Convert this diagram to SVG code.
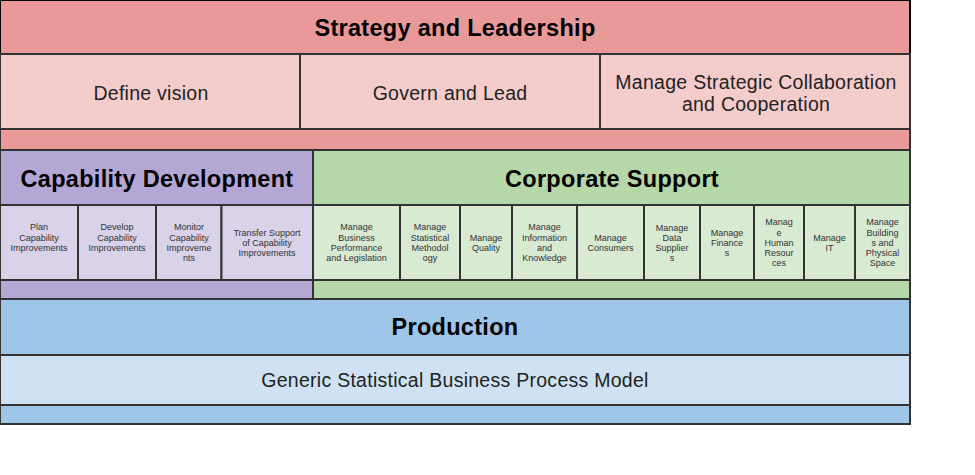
<svg xmlns="http://www.w3.org/2000/svg" width="975" height="475" viewBox="0 0 975 475">
<style>
rect{stroke:#333;stroke-width:2}
.hdr{font-family:"Liberation Sans",Arial,sans-serif;font-size:23.5px;font-weight:bold;fill:#000;text-anchor:middle;letter-spacing:0.3px}
.mid{font-family:"Liberation Sans",Arial,sans-serif;font-size:19.5px;fill:#222;text-anchor:middle;letter-spacing:0.27px}
.sm{font-family:"Liberation Sans",Arial,sans-serif;font-size:9px;fill:#333;text-anchor:middle}
.sl{fill:#EA9999}.sls{fill:#F4CCCC}
.cd{fill:#B4A7D6}.cds{fill:#D9D2E9}
.cs{fill:#B6D7A8}.css{fill:#D9EAD3}
.pr{fill:#9FC5E8}.prs{fill:#CFE2F3}
</style>
<rect x="0" y="0" width="975" height="475" style="fill:#fff;stroke:none"/>
<g id="strategy-leadership">
<rect class="sl" x="0" y="0" width="910" height="150"/>
<rect class="sl" x="0" y="0" width="910" height="54" style="stroke:#000"/>
<text class="hdr" x="455" y="36">Strategy and Leadership</text>
</g>
<g id="define-vision">
<rect class="sls" x="0" y="54" width="300" height="75"/>
<text class="mid" x="151" y="100">Define vision</text>
</g>
<g id="govern-lead">
<rect class="sls" x="300" y="54" width="300" height="75"/>
<text class="mid" x="450" y="100">Govern and Lead</text>
</g>
<g id="manage-strategic">
<rect class="sls" x="600" y="54" width="310" height="75"/>
<text class="mid" x="756" y="89">Manage Strategic Collaboration</text>
<text class="mid" x="756" y="111">and Cooperation</text>
</g>
<g id="capability-development">
<rect class="cd" x="0" y="150" width="313" height="149"/>
<rect class="cd" x="0" y="150" width="313" height="55"/>
<text class="hdr" x="157" y="187">Capability Development</text>
</g>
<g id="corporate-support">
<rect class="cs" x="313" y="150" width="597" height="149"/>
<rect class="cs" x="313" y="150" width="597" height="55"/>
<text class="hdr" x="612" y="187">Corporate Support</text>
</g>
<g id="plan-cap">
<rect class="cds" x="0" y="205" width="78" height="75"/>
<text class="sm" x="39"><tspan x="39" y="230">Plan</tspan><tspan x="39" y="241">Capability</tspan><tspan x="39" y="251">Improvements</tspan></text>
</g>
<g id="develop-cap">
<rect class="cds" x="78" y="205" width="78" height="75"/>
<text class="sm" x="117"><tspan x="117" y="230">Develop</tspan><tspan x="117" y="241">Capability</tspan><tspan x="117" y="251">Improvements</tspan></text>
</g>
<g id="monitor-cap">
<rect class="cds" x="156" y="205" width="65.5" height="75"/>
<text class="sm" x="189"><tspan x="189" y="230">Monitor</tspan><tspan x="189" y="241">Capability</tspan><tspan x="189" y="251">Improveme</tspan><tspan x="189" y="261">nts</tspan></text>
</g>
<g id="transfer-cap">
<rect class="cds" x="221.5" y="205" width="91.5" height="75"/>
<text class="sm" x="267"><tspan x="267" y="236">Transfer Support</tspan><tspan x="267" y="246">of Capability</tspan><tspan x="267" y="256">Improvements</tspan></text>
</g>
<g id="manage-business">
<rect class="css" x="313" y="205" width="87" height="75"/>
<text class="sm" x="356.5"><tspan x="356.5" y="230">Manage</tspan><tspan x="356.5" y="241">Business</tspan><tspan x="356.5" y="251">Performance</tspan><tspan x="356.5" y="261">and Legislation</tspan></text>
</g>
<g id="manage-stat-method">
<rect class="css" x="400" y="205" width="60" height="75"/>
<text class="sm" x="430"><tspan x="430" y="230">Manage</tspan><tspan x="430" y="241">Statistical</tspan><tspan x="430" y="251">Methodol</tspan><tspan x="430" y="261">ogy</tspan></text>
</g>
<g id="manage-quality">
<rect class="css" x="460" y="205" width="52" height="75"/>
<text class="sm" x="486"><tspan x="486" y="241">Manage</tspan><tspan x="486" y="251">Quality</tspan></text>
</g>
<g id="manage-info">
<rect class="css" x="512" y="205" width="65" height="75"/>
<text class="sm" x="544.5"><tspan x="544.5" y="230">Manage</tspan><tspan x="544.5" y="241">Information</tspan><tspan x="544.5" y="251">and</tspan><tspan x="544.5" y="261">Knowledge</tspan></text>
</g>
<g id="manage-consumers">
<rect class="css" x="577" y="205" width="67" height="75"/>
<text class="sm" x="610.5"><tspan x="610.5" y="241">Manage</tspan><tspan x="610.5" y="251">Consumers</tspan></text>
</g>
<g id="manage-data-suppliers">
<rect class="css" x="644" y="205" width="56" height="75"/>
<text class="sm" x="672"><tspan x="672" y="231">Manage</tspan><tspan x="672" y="241">Data</tspan><tspan x="672" y="251">Supplier</tspan><tspan x="672" y="261">s</tspan></text>
</g>
<g id="manage-finances">
<rect class="css" x="700" y="205" width="54" height="75"/>
<text class="sm" x="727"><tspan x="727" y="236">Manage</tspan><tspan x="727" y="246">Finance</tspan><tspan x="727" y="256">s</tspan></text>
</g>
<g id="manage-hr">
<rect class="css" x="754" y="205" width="50" height="75"/>
<text class="sm" x="779"><tspan x="779" y="225">Manag</tspan><tspan x="779" y="236">e</tspan><tspan x="779" y="246">Human</tspan><tspan x="779" y="256">Resour</tspan><tspan x="779" y="266">ces</tspan></text>
</g>
<g id="manage-it">
<rect class="css" x="804" y="205" width="51" height="75"/>
<text class="sm" x="829.5"><tspan x="829.5" y="241">Manage</tspan><tspan x="829.5" y="251">IT</tspan></text>
</g>
<g id="manage-buildings">
<rect class="css" x="855" y="205" width="55" height="75"/>
<text class="sm" x="882.5"><tspan x="882.5" y="225">Manage</tspan><tspan x="882.5" y="236">Building</tspan><tspan x="882.5" y="246">s and</tspan><tspan x="882.5" y="256">Physical</tspan><tspan x="882.5" y="266">Space</tspan></text>
</g>
<g id="production">
<rect class="pr" x="0" y="299" width="910" height="125"/>
<rect class="pr" x="0" y="299" width="910" height="56"/>
<text class="hdr" x="455" y="335">Production</text>
</g>
<g id="gsbpm">
<rect class="prs" x="0" y="355" width="910" height="50"/>
<text class="mid" x="455" y="387">Generic Statistical Business Process Model</text>
</g>
<g id="connectors"/>
</svg>
